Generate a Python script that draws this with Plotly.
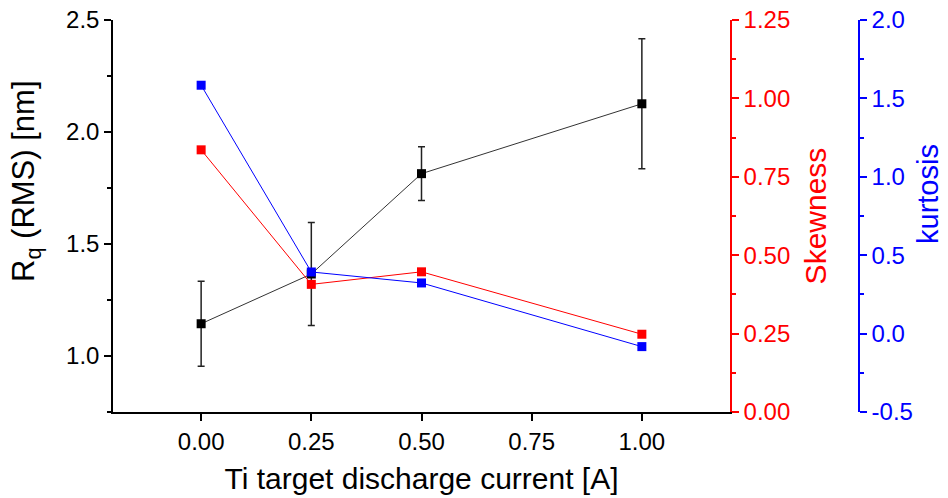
import plotly.graph_objects as go

current = [0.0, 0.25, 0.5, 1.0]
rq = [1.144, 1.366, 1.814, 2.126]
rq_err = [0.19, 0.23, 0.12, 0.29]
skewness = [0.836, 0.407, 0.447, 0.248]
kurtosis = [1.584, 0.393, 0.323, -0.083]
kurtosis_ticks = [-0.5, 0.0, 0.5, 1.0, 1.5, 2.0]
kurtosis_tick_labels = ["-0.5", "0.0", "0.5", "1.0", "1.5", "2.0"]

FONT = "Arial, Liberation Sans, sans-serif"
RED = "#FF0000"
BLUE = "#0000FF"

L, R, T, B = 113, 10, 20, 86
W, H = 948, 498
pw = W - L - R
ph = H - T - B
x_end = (730 - L) / pw
blue_pos = (859 - L) / pw


def px_x(px):
    return (px - L) / pw


def px_y(py):
    return (H - B - py) / ph


fig = go.Figure()
fig.add_trace(go.Scatter(
    x=current, y=rq, mode="lines+markers",
    line=dict(color="#333333", width=1),
    marker=dict(symbol="square", size=9, color="black", line=dict(width=0)),
    error_y=dict(type="data", array=rq_err, visible=True, color="#222222", thickness=1.5, width=3.5),
    yaxis="y", showlegend=False))
fig.add_trace(go.Scatter(
    x=current, y=skewness, mode="lines+markers",
    line=dict(color=RED, width=1),
    marker=dict(symbol="square", size=9, color=RED, line=dict(width=0)),
    yaxis="y2", showlegend=False))
fig.add_trace(go.Scatter(
    x=current, y=kurtosis, mode="lines+markers",
    line=dict(color=BLUE, width=1),
    marker=dict(symbol="square", size=9, color=BLUE, line=dict(width=0)),
    yaxis="y3", showlegend=False))

titlefont = 30

fig.update_layout(
    width=W, height=H,
    margin=dict(l=L, r=R, t=T, b=B, pad=0),
    paper_bgcolor="white", plot_bgcolor="white",
    font=dict(family=FONT, color="black"),
    xaxis=dict(
        domain=[0, x_end], range=[-0.2, 1.2], automargin=False,
        tickmode="linear", tick0=0, dtick=0.25, tickformat=".2f",
        showline=True, linecolor="black", linewidth=1.5,
        ticks="outside", ticklen=7, tickwidth=1.5, tickcolor="black",
        showgrid=False, zeroline=False,
        tickfont=dict(family=FONT, size=24, color="black"),
        title=dict(text="Ti target discharge current [A]",
                   font=dict(family=FONT, size=titlefont, color="black"), standoff=14),
    ),
    yaxis=dict(
        range=[0.75, 2.5], automargin=False,
        tickmode="linear", tick0=0, dtick=0.5, tickformat=".1f",
        showline=True, linecolor="black", linewidth=1.5,
        ticks="outside", ticklen=7, tickwidth=1.5, tickcolor="black",
        minor=dict(ticks="outside", ticklen=4, dtick=0.25, tick0=0, tickcolor="black", tickwidth=1.5),
        showgrid=False, zeroline=False,
        tickfont=dict(family=FONT, size=24, color="black"),
    ),
    yaxis2=dict(
        range=[0, 1.25], automargin=False,
        tickmode="linear", tick0=0, dtick=0.25, tickformat=".2f",
        overlaying="y", side="right", anchor="x",
        showline=True, linecolor=RED, linewidth=1.5,
        ticks="outside", ticklen=7, tickwidth=1.5, tickcolor=RED,
        minor=dict(ticks="outside", ticklen=4, dtick=0.125, tick0=0, tickcolor=RED, tickwidth=1.5),
        showgrid=False, zeroline=False,
        tickfont=dict(family=FONT, size=24, color=RED),
        title=dict(text="Skewness", font=dict(family=FONT, size=titlefont, color=RED), standoff=16),
    ),
    yaxis3=dict(
        range=[-0.5, 2.0], automargin=False,
        tickmode="array", tickvals=kurtosis_ticks, ticktext=kurtosis_tick_labels,
        overlaying="y", side="right", anchor="free", position=blue_pos,
        showline=True, linecolor=BLUE, linewidth=1.5,
        ticks="outside", ticklen=7, tickwidth=1.5, tickcolor=BLUE,
        minor=dict(ticks="outside", ticklen=4, dtick=0.25, tick0=0, tickcolor=BLUE, tickwidth=1.5),
        showgrid=False, zeroline=False,
        tickfont=dict(family=FONT, size=24, color=BLUE),
    ),
    annotations=[
        dict(text="R<sub>q</sub> (RMS) [nm]", textangle=-90, showarrow=False,
             xref="paper", yref="paper", x=px_x(26), y=px_y(181),
             xanchor="center", yanchor="middle",
             font=dict(family=FONT, size=31, color="black")),
        dict(text="kurtosis", textangle=-90, showarrow=False,
             xref="paper", yref="paper", x=px_x(928), y=px_y(194),
             xanchor="center", yanchor="middle",
             font=dict(family=FONT, size=29, color=BLUE)),
    ],
)

fig.write_html("out.html")
